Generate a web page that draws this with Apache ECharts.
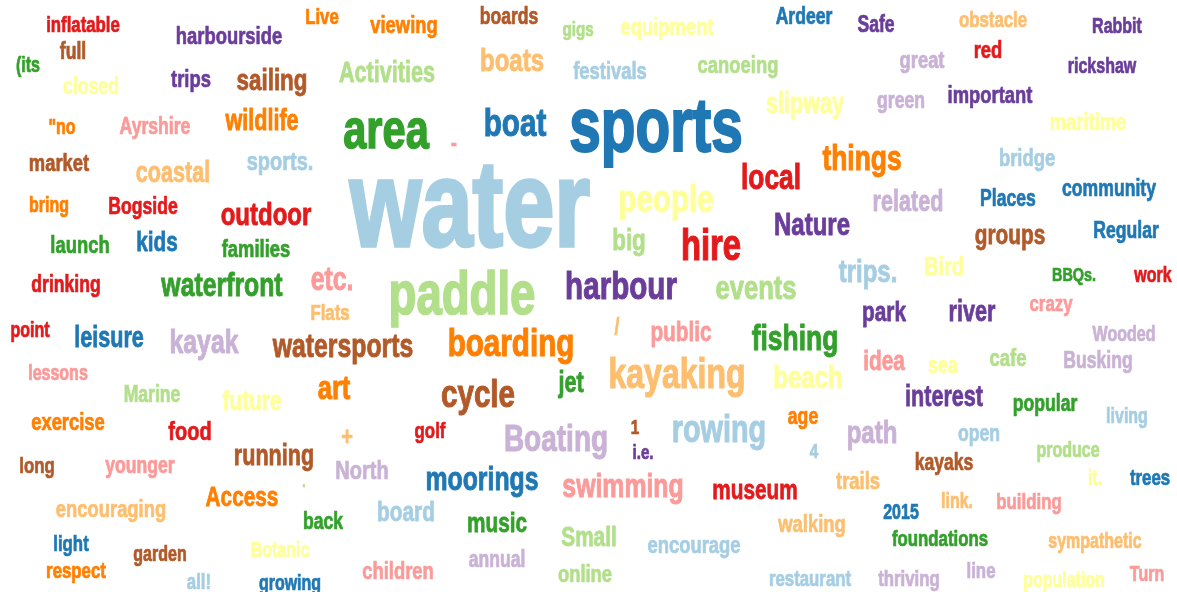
<!DOCTYPE html>
<html><head><meta charset="utf-8">
<script src="https://cdn.jsdelivr.net/npm/echarts@6/dist/echarts.min.js"></script>
<style>html,body{margin:0;padding:0;background:#fff}#c{width:1177px;height:592px}</style>
</head><body><div id="c"></div>
<script>
// Word cloud: words, layout positions (in chart units), weights (font size) and colour groups
const words = [
 'inflatable','harbourside','Live','viewing','boards','gigs','equipment','Ardeer','Safe','obstacle',
 'Rabbit','full','(its','trips','sailing','Activities','boats','festivals','canoeing','great',
 'red','rickshaw','closed','slipway','green','important','maritime','"no','Ayrshire','wildlife',
 'area','-','boat','sports','things','bridge','market','coastal','sports.','water',
 'local','community','related','Places','people','bring','Bogside','outdoor','Nature','groups',
 'Regular','launch','kids','families','big','hire','trips.','Bird','BBQs.','work',
 'drinking','waterfront','etc.','paddle','harbour','events','crazy','Flats','park','river',
 'point','leisure','kayak','watersports','boarding','/','public','fishing','Wooded','idea',
 'sea','cafe','Busking','lessons','art','cycle','jet','kayaking','beach','interest',
 'popular','living','Marine','future','exercise','food','+','golf','Boating','1',
 'i.e.','rowing','age','path','open','produce','4','long','younger','running',
 'North','.','moorings','swimming','museum','trails','kayaks','it.','trees','Access',
 'encouraging','board','back','music','link.','building','walking','2015','Small','encourage',
 'foundations','sympathetic','light','garden','Botanic','annual','children','online','respect','all!',
 'growing','restaurant','thriving','line','population','Turn'
];
const posX = [
 83,229,322,404,509,578,667,804,876,993,
 1117,73,28,191,272,387,512,610,738,922,
 988,1102,91,805,901,990,1088,62,155,262,
 386,454,515,656,862,1027,59,173,280,470,
 771,1109,908,1008,666,49,143,266,812,1010,
 1126,80,157,256,629,711,868,944,1074,1153,
 66,222,332,462,621,756,1051,330,884,972,
 30,109,204,343,511,617,681,795,1124,884,
 943,1008,1098,58,334,478,571,677,808,944,
 1045,1127,152,252,68,190,347,430,556,635,
 643,719,803,872,979,1068,814,37,140,274,
 362,304,482,623,755,858,944,1095,1150,242,
 111,406,323,497,957,1029,812,901,589,694,
 940,1095,71,160,280,497,398,585,76,199,
 290,810,909,981,1064,1147
];
const posY = [
 26,37,18,26,18,30,28,18,26,21,
 27,53,66,80,82,74,62,72,66,61,
 51,67,88,105,102,96,123,128,128,122,
 133,145,125,130,160,159,164,174,163,212,
 179,190,203,200,201,206,208,216,226,236,
 232,246,243,250,242,248,273,268,276,276,
 286,287,281,297,288,290,305,314,313,313,
 331,339,344,348,345,329,333,340,335,362,
 367,359,362,374,390,396,384,376,379,398,
 405,417,396,402,423,433,438,432,441,428,
 453,431,418,434,435,451,452,467,467,457,
 472,483,481,488,491,482,464,479,479,498,
 510,513,523,524,502,503,525,513,538,546,
 540,542,545,555,551,561,572,575,572,583,
 584,580,580,572,581,575
];
const weights = [
 21,23,21,23,22,19,23,22,22,21,
 20,22,20,23,28,27,30,23,23,23,
 23,20,22,27,22,23,23,20,22,27,
 52,22,37,71,33,23,23,27,25,115,
 33,22,27,22,37,20,22,30,30,26,
 22,23,26,23,28,41,30,25,18,20,
 22,31,31,57,37,32,21,21,26,27,
 20,27,31,31,37,22,26,33,20,26,
 22,23,22,20,32,37,27,40,30,27,
 22,20,22,26,23,25,25,21,35,19,
 19,36,22,30,22,20,19,21,22,27,
 25,15,31,31,26,23,22,20,21,26,
 23,26,22,26,20,21,23,20,26,23,
 21,20,21,20,20,22,23,23,21,21,
 20,21,21,21,20,20
];
const groups = [
 5,9,7,7,11,2,10,1,9,6,
 9,11,3,9,11,2,6,0,2,8,
 5,9,10,10,8,9,10,7,4,7,
 3,4,1,1,7,0,11,6,0,0,
 5,1,8,1,10,7,5,5,9,11,
 1,3,1,3,2,5,0,10,3,5,
 5,3,4,2,9,2,4,6,9,9,
 5,1,8,11,7,6,4,3,8,4,
 10,2,8,4,7,11,3,6,10,9,
 3,0,2,10,7,5,6,5,8,11,
 9,0,7,8,0,2,0,11,4,11,
 8,2,1,4,5,6,11,10,1,7,
 6,0,3,3,6,4,6,1,2,0,
 3,6,1,11,10,8,4,2,7,0,
 1,0,8,8,10,4
];
const palette = ['#a6cee3','#1f78b4','#b2df8a','#33a02c','#fb9a99','#e31a1c',
                 '#fdbf6f','#ff7f00','#cab2d6','#6a3d9a','#ffff99','#b15928'];
const FONT = '"Liberation Sans",Arial,sans-serif';

const data = words.map((w, i) => [posX[i], posY[i], weights[i], groups[i]]);

const chart = echarts.init(document.getElementById('c'), null, {renderer: 'canvas'});
chart.setOption({
  animation: false,
  backgroundColor: '#ffffff',
  grid: {left: 0, right: 0, top: 0, bottom: 0},
  xAxis: {type: 'value', min: 0, max: 1177, show: false},
  yAxis: {type: 'value', min: 0, max: 592, inverse: true, show: false},
  series: [{
    type: 'custom',
    coordinateSystem: 'cartesian2d',
    data: data,
    renderItem: function (params, api) {
      const i = params.dataIndex;
      const p = api.coord([api.value(0), api.value(1)]);
      const size = api.value(2);
      const col = palette[api.value(3)];
      return {
        type: 'text',
        x: p[0], y: p[1],
        scaleX: 0.8,
        scaleY: 1.06,
        style: {
          text: words[i],
          fill: col,
          stroke: col,
          lineWidth: Math.max(0.7, size * 0.028),
          font: 'bold ' + size + 'px ' + FONT,
          align: 'center',
          verticalAlign: 'middle'
        }
      };
    }
  }]
});
</script>
</body></html>
